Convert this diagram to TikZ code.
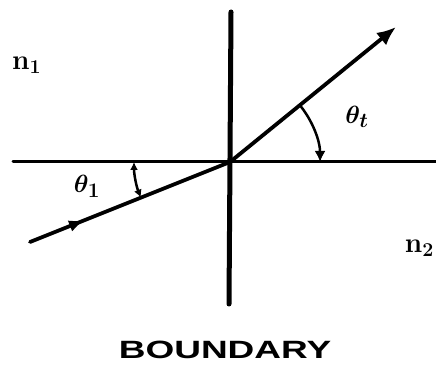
\documentclass[tikz,border=0pt]{standalone}
\usepackage{fontspec}
\usepackage{bm}
\newfontfamily\labfont{Liberation Sans}
\usetikzlibrary{arrows.meta,decorations.markings}
\tikzset{
  axisline/.style={line width=3pt,line cap=round},
  wall/.style={line width=5pt,line cap=round},
  ray/.style={line width=3.8pt,line cap=round},
  anglearc/.style={line width=2.5pt},
  labtext/.style={inner sep=0pt,font=\fontsize{28}{28}\selectfont}
}
\begin{document}
\begin{tikzpicture}[x=1pt,y=1pt]
\useasboundingbox (0,0) rectangle (436,366);
\fill[white] (0,0) rectangle (436,366);
\coordinate (O) at (230,204);
\coordinate (hl) at (13,204);
\coordinate (hr) at (440,204);
\coordinate (vt) at (231,354);
\coordinate (vb) at (229,62);
\coordinate (inc) at (30,124);
\coordinate (refl) at (396,339);
\draw[axisline] (hl) -- (hr);
\draw[wall] (vt) -- (vb);
\draw[ray,postaction={decorate},decoration={markings,
  mark=at position 0.27 with {\arrow{Latex[length=15pt,width=12pt]}}}] (inc) -- (O);
\draw[ray,-{Latex[length=19pt,width=16pt]}] (O) -- (refl);
\draw[anglearc,{Latex[length=8pt,width=8pt]}-{Latex[length=8pt,width=8pt]}]
  (134,204) arc[start angle=180,end angle=201.8,radius=96];
\draw[anglearc,-{Latex[length=11pt,width=11pt]}]
  (299.7,261) arc[start angle=39.3,end angle=0,radius=90];
\node[labtext] (thA) at (87,180) {$\bm{\theta}_{\bm{1}}$};
\node[labtext] (thB) at (357,249) {$\bm{\theta}_{\bm{t}}$};
\node[labtext,anchor=west] (nA) at (12,301) {\bfseries n\textsubscript{1}};
\node[labtext,anchor=east] (nB) at (434,118) {\bfseries n\textsubscript{2}};
\node[inner sep=0pt,xscale=1.48,font=\labfont\bfseries\fontsize{25}{25}\selectfont] (bd) at (225,16) {BOUNDARY};
\end{tikzpicture}
\end{document}
